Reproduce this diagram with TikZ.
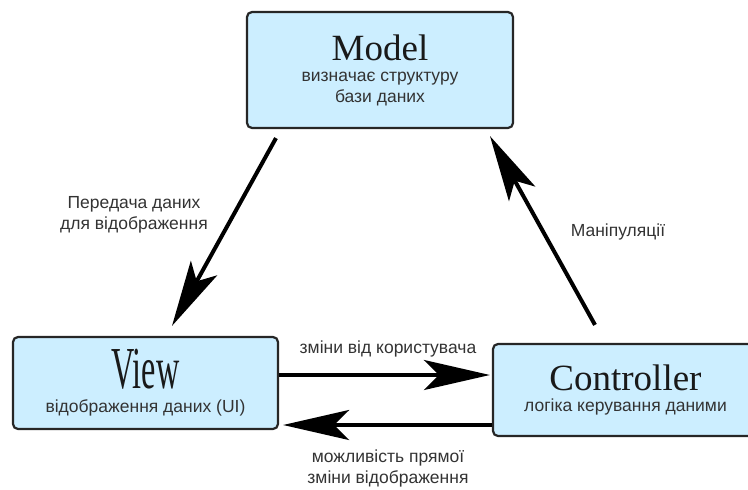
\documentclass[tikz,border=0pt]{standalone}
\usepackage{fontspec}
\setmainfont{Liberation Sans}
\newfontfamily\titlefont{Liberation Serif}
\usetikzlibrary{arrows.meta}
\definecolor{boxfill}{RGB}{204,238,255}
\definecolor{txt}{RGB}{51,51,51}
\begin{document}
\begin{tikzpicture}[x=1pt,y=-1pt,
  box/.style={draw=black!85, line width=2.2pt, fill=boxfill, rounded corners=5pt,
    inner sep=0pt, align=center, text=txt, font=\fontsize{17.5}{21}\selectfont},
  flow/.style={line width=4pt, -{Stealth[length=66pt,width=30pt,inset=15pt]}},
  lbl/.style={text=txt, font=\fontsize{17.5}{21}\selectfont, align=center}]
\useasboundingbox (0,0) rectangle (748,490);
\node[box, minimum width=266pt, minimum height=116pt] (model) at (380,70)
  {{\titlefont\fontsize{37}{37}\selectfont\color{black!90}Model}\\[0pt]
   визначає структуру\\бази даних};
\node[box, minimum width=265pt, minimum height=92pt] (view) at (145.5,383)
  {\scalebox{0.52}[0.96]{\titlefont\fontsize{62}{62}\selectfont\color{black!90}View}\\[3pt]
   відображення даних (UI)};
\node[box, minimum width=265pt, minimum height=92pt] (ctrl) at (625.5,390)
  {{\titlefont\fontsize{37}{37}\selectfont\color{black!90}Controller}\\[0pt]
   логіка керування даними};
\draw[flow] ([shift={(-104,9)}]model.south) -- ([shift={(26.5,-10)}]view.north);
\draw[flow] ([shift={(-30.5,-18)}]ctrl.north) -- ([shift={(110,7)}]model.south);
\draw[flow] ([shift={(0,-8)}]view.east) -- ([shift={(-2,-15)}]ctrl.west);
\draw[flow] ([shift={(0,35)}]ctrl.west) -- ([shift={(4,42)}]view.east);
\node[lbl] (l1) at (134,215) {Передача даних\\для відображення};
\node[lbl] (l2) at (618,232) {Маніпуляції};
\node[lbl] (l3) at (388,349) {зміни від користувача};
\node[lbl] (l4) at (388,468) {можливість прямої\\зміни відображення};
\end{tikzpicture}
\end{document}
